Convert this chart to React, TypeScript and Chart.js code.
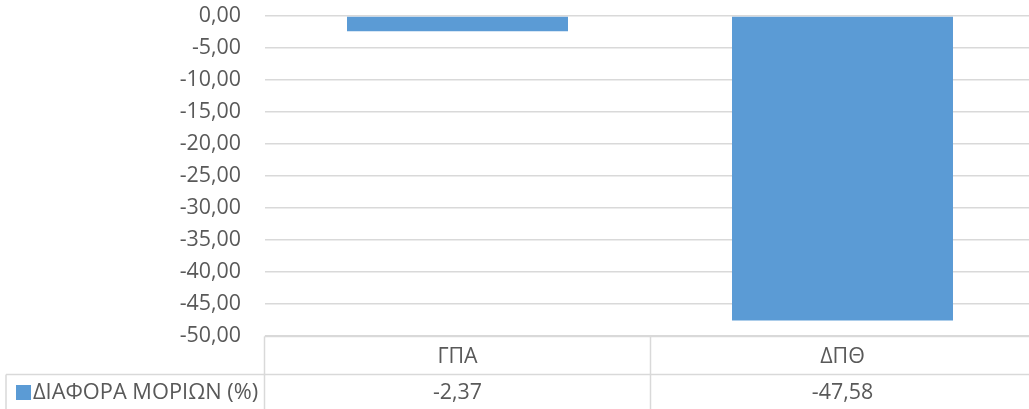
import React, { useEffect, useRef } from "react";
import { Chart, registerables } from "chart.js";

Chart.register(...registerables);

const categories: string[] = ["ΓΠΑ", "ΔΠΘ"];
const seriesName = "ΔΙΑΦΟΡΑ ΜΟΡΙΩΝ (%)";
const diffValues: number[] = [-2.37, -47.58];
const yMin = -50;
const yMax = 0;
const yStep = 5;

const FONT_FAMILY = '"Open Sans", "Noto Sans", sans-serif';
const FONT_SIZE = 21.4;
const TEXT_COLOR = "#595959";
const GRID_COLOR = "#d9d9d9";
const BAR_COLOR = "#5B9BD5";

const fmt = (v: number) => v.toFixed(2).replace(".", ",");

const dataTablePlugin = {
  id: "dataTable",
  afterDraw(chart: any) {
    const ctx = chart.ctx as CanvasRenderingContext2D;
    const area = chart.chartArea;
    const xs = chart.scales.x;
    const W = chart.width;
    const H = chart.height;
    const top = area.bottom + 0.5;
    const mid = top + 38;
    const left = area.left - 0.5;
    ctx.save();
    ctx.strokeStyle = GRID_COLOR;
    ctx.lineWidth = 1.5;
    ctx.beginPath();
    ctx.moveTo(left, top);
    ctx.lineTo(W, top);
    ctx.moveTo(6, mid);
    ctx.lineTo(W, mid);
    ctx.moveTo(left, top);
    ctx.lineTo(left, H);
    ctx.moveTo(6, mid);
    ctx.lineTo(6, H);
    for (let i = 1; i < categories.length; i++) {
      const xb = Math.round((xs.getPixelForValue(i - 1) + xs.getPixelForValue(i)) / 2) + 0.5;
      ctx.moveTo(xb, top);
      ctx.lineTo(xb, H);
    }
    ctx.stroke();

    ctx.fillStyle = TEXT_COLOR;
    ctx.font = `${FONT_SIZE}px ${FONT_FAMILY}`;
    ctx.textAlign = "center";
    ctx.textBaseline = "middle";
    categories.forEach((c, i) => {
      const x = xs.getPixelForValue(i);
      ctx.fillText(c, x, (top + mid) / 2 + 1);
      ctx.fillText(fmt(diffValues[i]), x, (mid + H) / 2 + 1);
    });
    // legend key
    ctx.fillStyle = BAR_COLOR;
    ctx.fillRect(16, 385, 15, 15);
    ctx.fillStyle = TEXT_COLOR;
    ctx.textAlign = "left";
    ctx.font = `${FONT_SIZE + 0.4}px ${FONT_FAMILY}`;
    ctx.fillText(seriesName, 33, (mid + H) / 2 + 1);
    ctx.restore();
  },
};

export default function App() {
  const ref = useRef<HTMLCanvasElement | null>(null);
  useEffect(() => {
    if (!ref.current) return;
    const chart = new Chart(ref.current, {
      type: "bar",
      data: {
        labels: categories,
        datasets: [
          {
            label: seriesName,
            data: diffValues,
            backgroundColor: BAR_COLOR,
            borderWidth: 0,
            barPercentage: 0.574,
            categoryPercentage: 1,
          },
        ],
      },
      options: {
        responsive: false,
        animation: false,
        layout: { padding: { top: 16, bottom: 73, left: 0, right: 1 } },
        plugins: { legend: { display: false }, tooltip: { enabled: false } },
        scales: {
          x: {
            display: false,
            offset: true,
            grid: { display: false },
          },
          y: {
            min: yMin,
            max: yMax,
            afterFit: (scale: any) => {
              scale.width = 265;
              scale.paddingTop = 0;
              scale.paddingBottom = 0;
            },
            border: { display: false },
            grid: { color: GRID_COLOR, lineWidth: 1.5, drawTicks: false },
            ticks: {
              stepSize: yStep,
              padding: 24,
              color: TEXT_COLOR,
              font: { family: FONT_FAMILY, size: FONT_SIZE },
              callback: (v: any) => fmt(Number(v)),
            },
          },
        },
      },
      plugins: [dataTablePlugin],
    });
    return () => chart.destroy();
  }, []);
  return (
    <div
      style={{
        position: "fixed",
        left: 0,
        top: 0,
        width: 1029,
        height: 409,
        overflow: "hidden",
        background: "#fff",
      }}
    >
      <div style={{ position: "relative", width: 1036, height: 409 }}>
        <canvas ref={ref} width={1036} height={409} style={{ display: "block" }} />
      </div>
    </div>
  );
}
